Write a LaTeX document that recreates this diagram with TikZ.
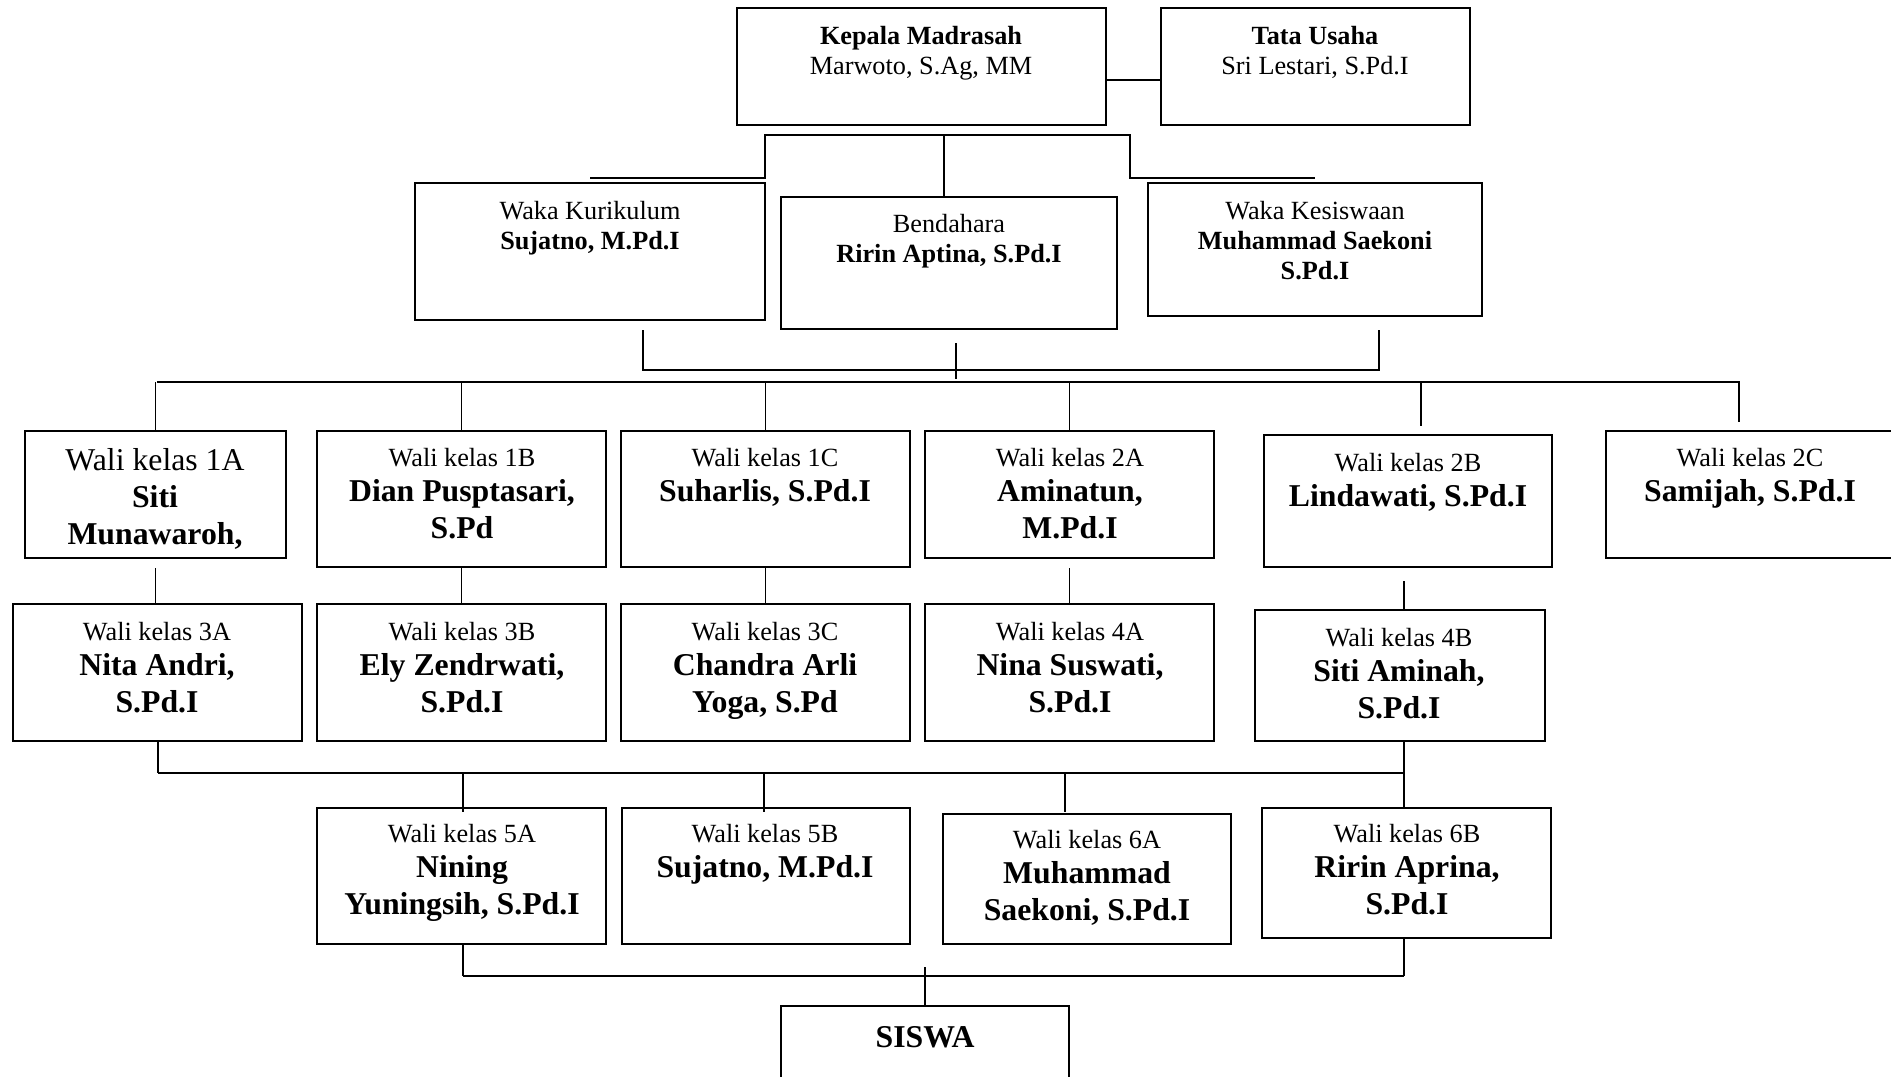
\documentclass[tikz,border=0pt]{standalone}
\usepackage{fontspec}
\setmainfont{Liberation Serif}
\usetikzlibrary{fit}

\tikzset{
  kotak/.style={draw, line width=0.8pt, inner sep=0pt},
  isi/.style={anchor=north, inner sep=0pt, align=center, font=\fontsize{10.5}{12}\selectfont},
  wali/.style={anchor=north, inner sep=0pt, align=center, font=\fontsize{12.7}{14.8}\selectfont\bfseries},
  garis/.style={line width=0.5pt},
  jalur/.style={line width=1pt}
}
\newcommand{\kls}[1]{{\mdseries\fontsize{10.5}{12}\selectfont Wali kelas #1}\\[-0.8pt]}

\begin{document}
\begin{tikzpicture}[x=0.4pt, y=-0.4pt]
	\useasboundingbox (0,0) rectangle (1891,1076);
	\clip (0,0) rectangle (1891,1076);
	% pimpinan
	\node[kotak, fit={(737,8) (1106,125)}] (kepala) {};
	\node[kotak, fit={(1161,8) (1470,125)}] (tu) {};
	\node[isi] (t-kepala) at (921,26) {\textbf{Kepala Madrasah}\\Marwoto, S.Ag, MM};
	\node[isi] (t-tu) at (1315,26) {\textbf{Tata Usaha}\\Sri Lestari, S.Pd.I};
	\draw[jalur] ([yshift=-5.4pt]kepala.east) -- ([yshift=-5.4pt]tu.west);
	% waka dan bendahara
	\node[kotak, fit={(415,183) (765,320)}] (kurikulum) {};
	\node[kotak, fit={(781,197) (1117,329)}] (bendahara) {};
	\node[kotak, fit={(1148,183) (1482,316)}] (kesiswaan) {};
	\node[isi] (t-kurikulum) at (590,201) {Waka Kurikulum\\\textbf{Sujatno, M.Pd.I}};
	\node[isi] (t-bendahara) at (949,214) {Bendahara\\\textbf{Ririn Aptina, S.Pd.I}};
	\node[isi] (t-kesiswaan) at (1315,201) {Waka Kesiswaan\\\textbf{Muhammad Saekoni}\\\textbf{S.Pd.I}};
	\coordinate (k1) at (765,135);
	\coordinate (k2) at (1130,135);
	\coordinate (k3) at (944,135);
	\draw[jalur] ([yshift=1.6pt]kurikulum.north) -| (k1) -- (k2) |- ([yshift=1.6pt]kesiswaan.north);
	\draw[garis] (k3) -- (k3 |- bendahara.north);
	\coordinate (b1) at (643,330);
	\coordinate (b2) at (1379,330);
	\coordinate (b3) at (956,343);
	\draw[jalur] (b1) -- ++(0,40) -| (b2);
	\draw[garis] (b3) -- ++(0,36);
	% wali kelas 1 dan 2
	\coordinate (bus1) at (157,382);
	\coordinate (bus2) at (1739,382);
	\draw[jalur] (bus1) -- (bus2) -- ++(0,40);
	\node[kotak, fit={(25,431) (286,558)}] (w1a) {};
	\node[kotak, fit={(317,431) (606,567)}] (w1b) {};
	\node[kotak, fit={(621,431) (910,567)}] (w1c) {};
	\node[kotak, fit={(925,431) (1214,558)}] (w2a) {};
	\node[kotak, fit={(1264,435) (1552,567)}] (w2b) {};
	\node[kotak, fit={(1606,431) (1930,558)}] (w2c) {};
	\node[wali] (t-w1a) at (155,448) {{\mdseries Wali kelas 1A}\\Siti\\Munawaroh,};
	\node[wali] (t-w1b) at (462,448) {\kls{1B}Dian Pusptasari,\\S.Pd};
	\node[wali] (t-w1c) at (765,448) {\kls{1C}Suharlis, S.Pd.I};
	\node[wali] (t-w2a) at (1070,448) {\kls{2A}Aminatun,\\M.Pd.I};
	\node[wali] (t-w2b) at (1408,453) {\kls{2B}Lindawati, S.Pd.I};
	\node[wali] (t-w2c) at (1750,448) {\kls{2C}Samijah, S.Pd.I};
	\foreach \k in {w1a,w1b,w1c,w2a}
		\draw[garis] (\k.north |- bus1) -- (\k.north);
	\coordinate (d2b) at (1421,382);
	\draw[garis] (d2b) -- ++(0,44);
	% wali kelas 3 dan 4
	\node[kotak, fit={(13,604) (302,741)}] (w3a) {};
	\node[kotak, fit={(317,604) (606,741)}] (w3b) {};
	\node[kotak, fit={(621,604) (910,741)}] (w3c) {};
	\node[kotak, fit={(925,604) (1214,741)}] (w4a) {};
	\node[kotak, fit={(1255,610) (1545,741)}] (w4b) {};
	\node[wali] (t-w3a) at (157,622) {\kls{3A}Nita Andri,\\S.Pd.I};
	\node[wali] (t-w3b) at (462,622) {\kls{3B}Ely Zendrwati,\\S.Pd.I};
	\node[wali] (t-w3c) at (765,622) {\kls{3C}Chandra Arli\\Yoga, S.Pd};
	\node[wali] (t-w4a) at (1070,622) {\kls{4A}Nina Suswati,\\S.Pd.I};
	\node[wali] (t-w4b) at (1399,628) {\kls{4B}Siti Aminah,\\S.Pd.I};
	\draw[garis] ([yshift=-3.6pt]w1a.south) -- (w1a.south |- w3a.north);
	\draw[garis] (w1b.south) -- (w1b.south |- w3b.north);
	\draw[garis] (w1c.south) -- (w1c.south |- w3c.north);
	\draw[garis] ([yshift=-3.6pt]w2a.south) -- (w2a.south |- w4a.north);
	\coordinate (kanan) at (1404,581);
	\draw[garis] (kanan) -- (kanan |- w4b.north);
	% wali kelas 5 dan 6
	\node[kotak, fit={(317,808) (606,944)}] (w5a) {};
	\node[kotak, fit={(622,808) (910,944)}] (w5b) {};
	\node[kotak, fit={(943,814) (1231,944)}] (w6a) {};
	\node[kotak, fit={(1262,808) (1551,938)}] (w6b) {};
	\node[wali] (t-w5a) at (462,824) {\kls{5A}Nining\\Yuningsih, S.Pd.I};
	\node[wali] (t-w5b) at (765,824) {\kls{5B}Sujatno, M.Pd.I};
	\node[wali] (t-w6a) at (1087,830) {\kls{6A}Muhammad\\Saekoni, S.Pd.I};
	\node[wali] (t-w6b) at (1407,824) {\kls{6B}Ririn Aprina,\\S.Pd.I};
	\coordinate (bus3) at (158,773);
	\coordinate (bus4) at (1404,773);
	\draw[garis] (w3a.south -| bus3) -- (bus3);
	\draw[jalur] (bus3) -- (bus4);
	\draw[garis] (bus4 |- w4b.south) -- (bus4 |- w6b.north);
	\foreach \x in {463,764,1065}
		\draw[garis] (\x,773) -- (\x,812);
	% siswa
	\node[kotak, fit={(781,1006) (1069,1110)}] (siswa) {};
	\node[wali] (t-siswa) at (925,1026) {SISWA};
	\coordinate (bus5) at (463,976);
	\coordinate (bus6) at (1404,976);
	\draw[garis] (bus5 |- w5a.south) -- (bus5);
	\draw[garis] (bus6 |- w6b.south) -- (bus6);
	\draw[jalur] (bus5) -- (bus6);
	\coordinate (s1) at (925,967);
	\draw[garis] (s1) -- (siswa.north);
\end{tikzpicture}
\end{document}
